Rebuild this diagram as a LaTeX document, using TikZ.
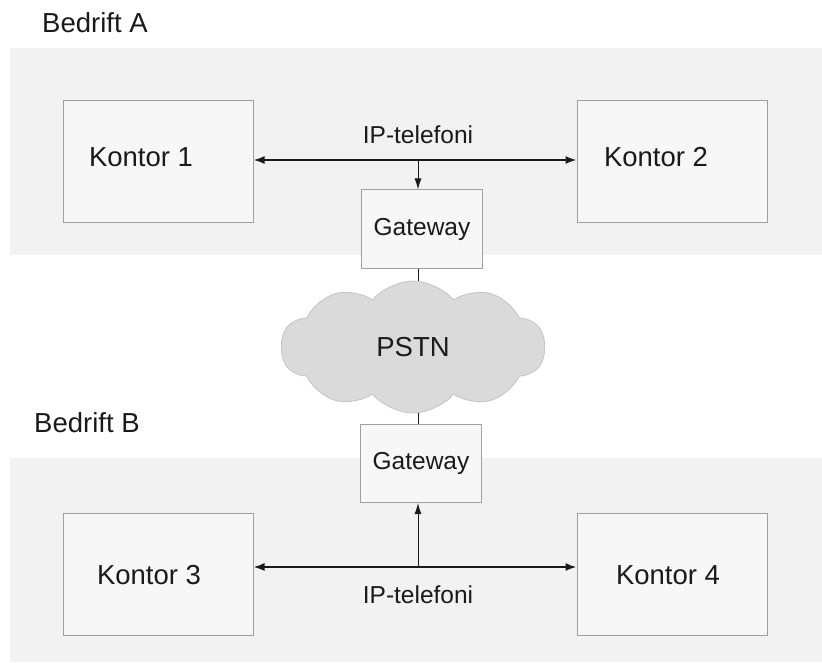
\documentclass[tikz,border=0pt]{standalone}
\usepackage{fontspec}
\setmainfont{Liberation Sans}
\usetikzlibrary{shapes.symbols,arrows.meta}
\definecolor{bandgray}{HTML}{F2F2F2}
\definecolor{boxfill}{HTML}{F7F7F7}
\definecolor{boxline}{HTML}{A0A0A0}
\definecolor{cloudfill}{HTML}{DADADA}
\definecolor{cloudline}{HTML}{C4C4C4}
\definecolor{ink}{HTML}{1A1A1A}
\tikzset{
  band/.style={fill=bandgray, draw=none},
  officebox/.style={rectangle, draw=boxline, fill=boxfill, line width=1pt, minimum width=190pt, minimum height=122pt, inner sep=0pt},
  gwbox/.style={rectangle, draw=boxline, fill=boxfill, line width=1pt, minimum width=121pt, minimum height=78pt, inner sep=0pt, font=\fontsize{24.5}{28}\selectfont, text=ink},
  bigtext/.style={font=\fontsize{27.5}{32}\selectfont, text=ink, inner sep=0pt},
  smalltext/.style={font=\fontsize{24.5}{28}\selectfont, text=ink, inner sep=0pt},
  mainarrow/.style={line width=1.8pt, draw=ink, {Latex[length=11pt,width=8pt]}-{Latex[length=11pt,width=8pt]}},
  downarrow/.style={line width=1pt, draw=ink, -{Latex[length=11pt,width=7pt]}},
  link/.style={line width=1pt, draw=ink},
  cloudnode/.style={cloud, cloud puffs=10, cloud puff arc=100, aspect=2.1, fill=cloudfill, draw=cloudline, line width=0.8pt, minimum width=264pt, minimum height=132pt, inner sep=0pt, font=\fontsize{27.5}{32}\selectfont, text=ink}
}
\begin{document}
\begin{tikzpicture}[x=1pt,y=-1pt]
\useasboundingbox (0,0) rectangle (822,663);
\fill[white] (0,0) rectangle (822,663);
% bands
\fill[band] (10,48) rectangle (822,255);
\fill[band] (10,458) rectangle (822,662);
% titles
\node[bigtext, anchor=west] (ba) at (42,23) {Bedrift A};
\node[bigtext, anchor=west] (bb) at (34,423) {Bedrift B};
% top company
\node[officebox, label={[bigtext, xshift=-17pt, yshift=5pt]center:Kontor 1}] (k1) at (158,162) {};
\node[officebox, label={[bigtext, xshift=-16pt, yshift=5pt]center:Kontor 2}] (k2) at (672,162) {};
\node[gwbox] (gw1) at (422,229) {Gateway};
% cloud
\node[cloudnode] (pstn) at (413,347) {PSTN};
% bottom company
\node[gwbox] (gw2) at (421,463.5) {Gateway};
\node[officebox, label={[bigtext, xshift=-9pt, yshift=-1pt]center:Kontor 3}] (k3) at (158,574.5) {};
\node[officebox, label={[bigtext, xshift=-4pt, yshift=-1pt]center:Kontor 4}] (k4) at (672,574.5) {};
% junction coordinates
\coordinate (ja) at (418,160);
\coordinate (jb) at (418,567);
% labels
\node[smalltext] (ipa) at (418,135) {IP-telefoni};
\node[smalltext] (ipb) at (418,595) {IP-telefoni};
% connectors
\draw[mainarrow] (k1.east |- ja) -- (k2.west |- ja);
\draw[downarrow] (ja) -- (ja |- gw1.north);
\draw[link] (ja |- gw1.south) -- (ja |- pstn.north);
\draw[link] (ja |- pstn.south) -- (ja |- gw2.north);
\draw[mainarrow] (k3.east |- jb) -- (k4.west |- jb);
\draw[downarrow] (jb) -- (jb |- gw2.south);
\end{tikzpicture}
\end{document}
